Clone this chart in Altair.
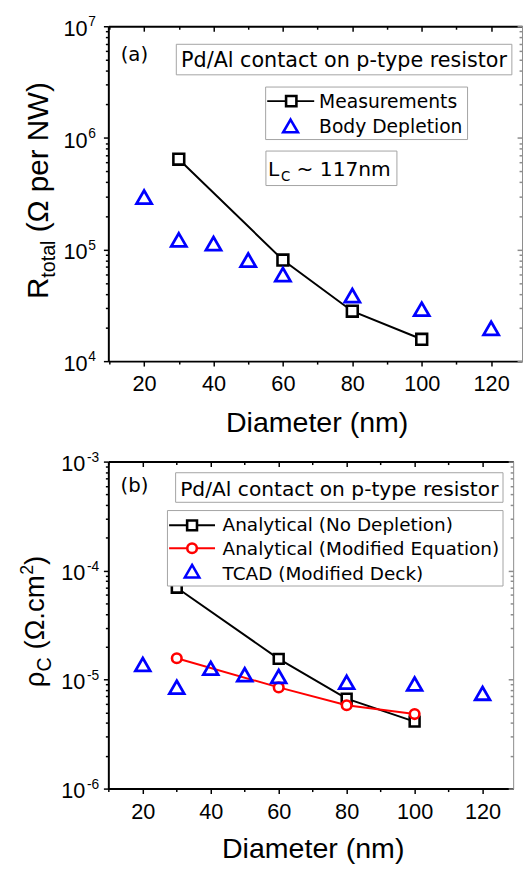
import altair as alt
import pandas as pd

# ---------------- data ----------------
# Panel (a): total resistance per nanowire vs diameter
meas_diam = [30, 60, 80, 100]
meas_rtotal = [6.44e5, 8.05e4, 2.8e4, 1.57e4]
body_diam = [20, 30, 40, 50, 60, 80, 100, 120]
body_rtotal = [2.95e5, 1.22e5, 1.13e5, 8.05e4, 5.97e4, 3.87e4, 2.92e4, 1.97e4]

# Panel (b): specific contact resistivity vs diameter
anal_diam = [30, 60, 80, 100]
nodep_rho = [6.97e-5, 1.55e-5, 6.68e-6, 4.12e-6]
modeq_rho = [1.57e-5, 8.48e-6, 5.82e-6, 4.83e-6]
tcad_diam = [20, 30, 40, 50, 60, 80, 100, 120]
tcad_rho = [1.38e-5, 8.53e-6, 1.27e-5, 1.11e-5, 1.07e-5, 9.46e-6, 9.14e-6, 7.48e-6]

# ticks / labels
x_tick_values = [10, 20, 30, 40, 50, 60, 70, 80, 90, 100, 110, 120]
top_decade_exps = [4, 5, 6, 7]
bot_decade_exps = [-6, -5, -4, -3]
minor_mults = [1, 2, 3, 4, 5, 6, 7, 8, 9]

AX_FONT = "Liberation Sans"
TXT_FONT = "DejaVu Sans"
TRI = "M0,-0.866L1,0.866L-1,0.866Z"
BLUE = "#0000ff"
RED = "#ff0000"

one = pd.DataFrame({"k": [0]})


def log_ticks(exps):
    vals = [m * 10.0 ** e for e in exps[:-1] for m in minor_mults]
    return vals + [10.0 ** exps[-1]]


def txt(s, x, y, size, font=TXT_FONT, align="left", angle=0):
    return alt.Chart(one).mark_text(
        text=s, font=font, fontSize=size, align=align,
        baseline="alphabetic", angle=angle, color="black"
    ).encode(x=alt.value(x), y=alt.value(y))


def box(x1, x2, y1, y2):
    return alt.Chart(one).mark_rect(
        fill="white", stroke="#a3a3a3", strokeWidth=1
    ).encode(x=alt.value(x1), x2=alt.value(x2), y=alt.value(y1), y2=alt.value(y2))


def hline(x1, x2, y, color):
    return alt.Chart(one).mark_rule(color=color, strokeWidth=2).encode(
        x=alt.value(x1), x2=alt.value(x2), y=alt.value(y))


def sym(x, y, shape, size, stroke, fill=None):
    kw = dict(shape=shape, size=size, stroke=stroke, strokeWidth=2.6,
              filled=False, opacity=1)
    if fill:
        kw.update(fill=fill, fillOpacity=1)
    return alt.Chart(one).mark_point(**kw).encode(x=alt.value(x), y=alt.value(y))


def bound(left, top, bottom):
    return alt.Chart(one).mark_rule(opacity=0, strokeOpacity=0).encode(
        x=alt.value(-left), y=alt.value(-top), y2=alt.value(bottom))


MAJOR_X = "datum.value % 20 == 0"
MAJOR_Y = "abs(log(datum.value)/LN10 - round(log(datum.value)/LN10)) < 0.001"


def axis_layers(df, xs, ys, yvals):
    common = dict(grid=False, title=None, tickColor="black", tickWidth=1.5,
                  domainColor="black", domainWidth=2)
    bx = alt.Axis(orient="bottom", values=x_tick_values,
                  labelExpr=f"{MAJOR_X} ? datum.label : ''",
                  tickSize=alt.ExprRef(expr=f"{MAJOR_X} ? 5 : 3"),
                  labelFont=AX_FONT, labelFontSize=22, labelColor="black",
                  labelPadding=8, labelFlush=False, labelOverlap=False, **common)
    ly = alt.Axis(orient="left", values=yvals, labels=False,
                  tickSize=alt.ExprRef(expr=f"{MAJOR_Y} ? 5 : 3"), **common)
    tx = alt.Axis(orient="top", values=x_tick_values, labels=False,
                  tickSize=alt.ExprRef(expr=f"{MAJOR_X} ? -5 : -3"), **common)
    ry = alt.Axis(orient="right", values=yvals, labels=False,
                  tickSize=alt.ExprRef(expr=f"{MAJOR_Y} ? -5 : -3"),
                  grid=False, title=None, tickColor="#8c8c8c", tickWidth=1.5,
                  domainColor="#8c8c8c", domainWidth=1)
    a = alt.Chart(df).mark_point(opacity=0).encode(
        x=alt.X("d:Q", scale=xs, axis=bx), y=alt.Y("v:Q", scale=ys, axis=ly))
    b = alt.Chart(df).mark_point(opacity=0).encode(
        x=alt.X("d:Q", scale=xs, axis=tx), y=alt.Y("v:Q", scale=ys, axis=ry))
    return [a, b]


def decade_labels(exps, ys, ten_x, ten_dy, exp_x, exp_dy):
    df = pd.DataFrame({"v": [10.0 ** e for e in exps],
                       "base": ["10"] * len(exps),
                       "exp": [str(e) for e in exps]})
    ten = alt.Chart(df).mark_text(
        font=AX_FONT, fontSize=22, align="right", baseline="alphabetic",
        dy=ten_dy, color="black"
    ).encode(x=alt.value(ten_x), y=alt.Y("v:Q", scale=ys, axis=None), text="base:N")
    ex = alt.Chart(df).mark_text(
        font=AX_FONT, fontSize=14, align="left", baseline="alphabetic",
        dy=exp_dy, color="black"
    ).encode(x=alt.value(exp_x), y=alt.Y("v:Q", scale=ys, axis=None), text="exp:N")
    return [ten, ex]


# ================= Panel (a) =================
W1, H1 = 420, 340
xs1 = alt.Scale(domain=[9.7, 128.9], nice=False, zero=False)
ys1 = alt.Scale(type="log", domain=[1e4, 1e7], nice=False)
df_meas = pd.DataFrame({"d": meas_diam, "v": meas_rtotal})
df_body = pd.DataFrame({"d": body_diam, "v": body_rtotal})
X1 = alt.X("d:Q", scale=xs1, axis=None)
Y1 = alt.Y("v:Q", scale=ys1, axis=None)

layers_a = axis_layers(df_meas, xs1, ys1, log_ticks(top_decade_exps))
layers_a += [
    alt.Chart(df_meas).mark_line(color="black", strokeWidth=2).encode(x=X1, y=Y1),
    alt.Chart(df_meas).mark_point(shape="square", size=121, stroke="black",
                                  strokeWidth=2.6, fill="white", fillOpacity=1,
                                  filled=False, opacity=1).encode(x=X1, y=Y1),
    alt.Chart(df_body).mark_point(shape=TRI, size=235, stroke=BLUE,
                                  strokeWidth=2.8, filled=False,
                                  opacity=1).encode(x=X1, y=Y1),
    # annotations
    txt("(a)", 12.5, 35, 20),
    box(69, 409.7, 18.3, 49.3),
    txt("Pd/Al contact on p-type resistor", 239.3, 41.7, 21, align="center"),
    box(159.7, 364.7, 61.7, 115),
    hline(161.3, 209, 76, "black"),
    sym(185.7, 76, "square", 110, "black", "white"),
    sym(185, 101.2, TRI, 225, BLUE),
    txt("Measurements", 214, 82.7, 19),
    txt("Body Depletion", 214, 108.3, 19),
    box(160, 293, 126.7, 161.7),
    txt("L", 162, 151.7, 20.5),
    txt("C", 175.3, 156.7, 13.5),
    txt("~ 117nm", 191, 151.7, 20.5),
    # y-axis title R_total (Ω per NW)
    txt("R", -61, 277, 30, font=AX_FONT, angle=270),
    txt("total", -54.3, 255.3, 20, font=AX_FONT, angle=270),
    txt("(Ω per NW)", -61, 209.2, 30, font=AX_FONT, angle=270),
    # x-axis title
    txt("Diameter (nm)", 212, 412, 29, font=AX_FONT, align="center"),
    bound(101, 20, 422),
]
layers_a += decade_labels(top_decade_exps, ys1, -21, 10, -20.3, 0)
panel_a = alt.layer(*layers_a).properties(width=W1, height=H1)

# ================= Panel (b) =================
W2, H2 = 411, 332
xs2 = alt.Scale(domain=[9.86, 129.0], nice=False, zero=False)
ys2 = alt.Scale(type="log", domain=[1e-6, 1e-3], nice=False)
df_nodep = pd.DataFrame({"d": anal_diam, "v": nodep_rho})
df_modeq = pd.DataFrame({"d": anal_diam, "v": modeq_rho})
df_tcad = pd.DataFrame({"d": tcad_diam, "v": tcad_rho})
X2 = alt.X("d:Q", scale=xs2, axis=None)
Y2 = alt.Y("v:Q", scale=ys2, axis=None)

layers_b = axis_layers(df_nodep, xs2, ys2, log_ticks(bot_decade_exps))
layers_b += [
    alt.Chart(df_nodep).mark_line(color="black", strokeWidth=2).encode(x=X2, y=Y2),
    alt.Chart(df_nodep).mark_point(shape="square", size=100, stroke="black",
                                   strokeWidth=2.6, fill="white", fillOpacity=1,
                                   filled=False, opacity=1).encode(x=X2, y=Y2),
    alt.Chart(df_modeq).mark_line(color=RED, strokeWidth=2).encode(x=X2, y=Y2),
    alt.Chart(df_modeq).mark_point(shape="circle", size=95, stroke=RED,
                                   strokeWidth=2.6, fill="white", fillOpacity=1,
                                   filled=False, opacity=1).encode(x=X2, y=Y2),
    alt.Chart(df_tcad).mark_point(shape=TRI, size=225, stroke=BLUE,
                                  strokeWidth=2.8, filled=False,
                                  opacity=1).encode(x=X2, y=Y2),
    # annotations
    txt("(b)", 12.4, 31.3, 20),
    box(68.3, 400.7, 11.3, 41.3),
    txt("Pd/Al contact on p-type resistor", 234.5, 34.7, 20.5, align="center"),
    box(60, 400.7, 49.7, 126.3),
    hline(61.7, 108.3, 64.7, "black"),
    sym(85, 64.7, "square", 100, "black", "white"),
    hline(61.7, 108.3, 88, RED),
    sym(85, 88, "circle", 95, RED, "white"),
    sym(85, 111.3, TRI, 215, BLUE),
    txt("Analytical (No Depletion)", 116, 70.7, 18.7),
    txt("Analytical (Modified Equation)", 116, 94.7, 18.7),
    txt("TCAD (Modified Deck)", 116, 119.7, 18.7),
    # y-axis title rho_C (Ω.cm²)
    txt("ρ", -65, 229, 28, font=AX_FONT, angle=270),
    txt("C", -58, 213, 20, font=AX_FONT, angle=270),
    txt("(Ω.cm", -65, 190.8, 28, font=AX_FONT, angle=270),
    txt("2", -77, 114.9, 18, font=AX_FONT, angle=270),
    txt(")", -65, 104.9, 28, font=AX_FONT, angle=270),
    # x-axis title
    txt("Diameter (nm)", 208, 402.5, 29, font=AX_FONT, align="center"),
    bound(110, 20, 409.5),
]
layers_b += decade_labels(bot_decade_exps, ys2, -23.3, 9.5, -21.7, 0)
panel_b = alt.layer(*layers_b).properties(width=W2, height=H2)

chart = alt.concat(panel_a, panel_b, columns=1).properties(
    align="none", spacing=0, padding=0, background="white"
).configure_view(stroke=None)

chart.save("out.html", embed_options={"renderer": "svg", "actions": False})
